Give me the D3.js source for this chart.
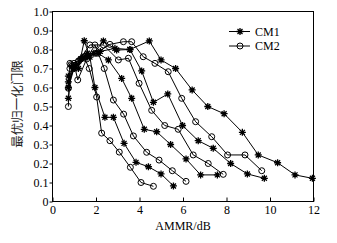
<!DOCTYPE html>
<html><head><meta charset="utf-8">
<script src="https://cdn.jsdelivr.net/npm/d3@7"></script>
<style>body{margin:0;background:#fff}svg{display:block}</style>
</head><body><svg id="c" width="337" height="243"></svg>
<script>
const xTicks=[0,2,4,6,8,10,12];
const yTicks=[0,0.1,0.2,0.3,0.4,0.5,0.6,0.7,0.8,0.9,1.0];
const xTitle="AMMR/dB";
const yTitle="最优归一化门限";
const legendNames=["CM1","CM2"];
// CM1 curves (asterisk markers)
const cm1a=[[0.73,0.543],[0.88,0.71],[1.19,0.70],[1.46,0.846],[1.72,0.76],[1.95,0.60],[2.41,0.443],[2.80,0.443],[3.29,0.306],[3.84,0.206],[4.41,0.183],[4.99,0.145],[5.56,0.082]];
const cm1b=[[0.73,0.60],[0.99,0.70],[1.3,0.75],[1.6,0.78],[2.1,0.78],[2.57,0.745],[3.18,0.648],[3.64,0.543],[4.22,0.38],[4.79,0.367],[5.43,0.30],[6.14,0.224],[6.81,0.14],[7.58,0.14]];
const cm1c=[[0.73,0.63],[1.0,0.70],[1.4,0.76],[1.9,0.78],[2.34,0.845],[2.95,0.797],[3.56,0.80],[4.10,0.687],[4.64,0.522],[5.30,0.566],[5.98,0.40],[6.70,0.32],[7.39,0.28],[8.19,0.20],[8.96,0.145],[9.74,0.122]];
const cm1d=[[0.73,0.66],[1.1,0.72],[1.6,0.76],[2.2,0.79],[2.87,0.806],[3.56,0.80],[4.45,0.845],[4.99,0.745],[5.66,0.70],[6.42,0.587],[7.14,0.50],[7.89,0.462],[8.73,0.364],[9.46,0.245],[10.35,0.204],[11.15,0.14],[11.95,0.122]];
// CM2 curves (circle markers)
const cm2a=[[0.73,0.50],[0.80,0.727],[1.19,0.736],[1.45,0.76],[1.69,0.70],[2.03,0.55],[2.26,0.36],[2.64,0.32],[3.07,0.26],[3.58,0.18],[4.07,0.10],[4.64,0.08]];
const cm2b=[[0.73,0.596],[0.99,0.727],[1.16,0.64],[1.57,0.75],[1.95,0.824],[2.38,0.70],[2.8,0.534],[3.27,0.46],[3.72,0.345],[4.33,0.259],[4.90,0.218],[5.51,0.162],[6.14,0.106]];
const cm2c=[[0.8,0.70],[1.2,0.74],[1.72,0.824],[2.34,0.824],[3.03,0.745],[3.49,0.754],[3.98,0.622],[4.56,0.48],[5.16,0.40],[5.78,0.38],[6.47,0.245],[7.16,0.20],[7.85,0.143]];
const cm2d=[[0.85,0.72],[1.3,0.75],[2.0,0.78],[2.64,0.827],[3.26,0.841],[3.64,0.841],[4.17,0.762],[4.71,0.727],[5.32,0.683],[5.94,0.543],[6.58,0.42],[7.32,0.341],[8.05,0.245],[8.85,0.245],[9.62,0.162]];

const cm1Curves=[cm1a,cm1b,cm1c,cm1d];
const cm2Curves=[cm2a,cm2b,cm2c,cm2d];

const svg=d3.select("#c");
const m={l:52.5,r:313.5,t:11.5,b:201.5};
const x=d3.scaleLinear().domain([0,12]).range([m.l,m.r]);
const y=d3.scaleLinear().domain([0,1]).range([m.b,m.t]);
const serif="'Liberation Serif','Times New Roman',serif";

// axes
const ya=svg.append("g").attr("transform",`translate(${m.l},0)`)
  .call(d3.axisLeft(y).tickValues(yTicks).tickSize(3).tickPadding(1).tickFormat(d=>d===0?"0":d.toFixed(1)));
const xa=svg.append("g").attr("transform",`translate(0,${m.b})`)
  .call(d3.axisBottom(x).tickValues(xTicks).tickSizeInner(-4).tickSizeOuter(0).tickPadding(4).tickFormat(d3.format("d")));
[ya,xa].forEach(g=>{g.select(".domain").remove();g.selectAll("line").attr("stroke","#000");
  g.selectAll("text").attr("font-family",serif).attr("font-size",12).attr("fill","#000");});

svg.append("rect").attr("x",m.l).attr("y",m.t).attr("width",m.r-m.l).attr("height",m.b-m.t)
  .attr("fill","none").attr("stroke","#000").attr("stroke-width",1);

svg.append("text").attr("x",(m.l+m.r)/2).attr("y",230).attr("text-anchor","middle")
  .attr("font-family",serif).attr("font-size",12).text(xTitle);
svg.append("text").attr("transform",`translate(22,104) rotate(-90)`).attr("text-anchor","middle")
  .attr("font-family","'Noto Sans CJK SC',sans-serif").attr("font-size",12.5).attr("fill","#222").text(yTitle);

const line=d3.line().x(d=>x(d[0])).y(d=>y(d[1]));
const ast="M0,-3.5L0,3.5M-3.5,0L3.5,0M-2.5,-2.5L2.5,2.5M-2.5,2.5L2.5,-2.5";
function drawAst(g,px,py){g.append("path").attr("d",ast).attr("transform",`translate(${px},${py})`)
  .attr("stroke","#000").attr("stroke-width",1.3).attr("fill","none");
  g.append("rect").attr("x",px-1.3).attr("y",py-1.3).attr("width",2.6).attr("height",2.6).attr("fill","#000");}
function drawCirc(g,px,py){g.append("circle").attr("cx",px).attr("cy",py).attr("r",3)
  .attr("fill","none").attr("stroke","#000").attr("stroke-width",1);}

const plot=svg.append("g");
cm1Curves.forEach(c=>{plot.append("path").datum(c).attr("d",line).attr("fill","none").attr("stroke","#000").attr("stroke-width",1);});
cm2Curves.forEach(c=>{plot.append("path").datum(c).attr("d",line).attr("fill","none").attr("stroke","#000").attr("stroke-width",1);});
cm1Curves.forEach(c=>c.forEach(d=>drawAst(plot,x(d[0]),y(d[1]))));
cm2Curves.forEach(c=>c.forEach(d=>drawCirc(plot,x(d[0]),y(d[1]))));

// legend
const lg=svg.append("g");
const legY=[31.5,46];
lg.append("line").attr("x1",229).attr("x2",250).attr("y1",legY[0]).attr("y2",legY[0]).attr("stroke","#000");
drawAst(lg,240,legY[0]);
lg.append("line").attr("x1",229).attr("x2",250).attr("y1",legY[1]).attr("y2",legY[1]).attr("stroke","#000");
drawCirc(lg,240,legY[1]);
legendNames.forEach((n,i)=>lg.append("text").attr("x",255).attr("y",legY[i]+4).attr("font-family",serif).attr("font-size",12).text(n));
</script></body></html>
